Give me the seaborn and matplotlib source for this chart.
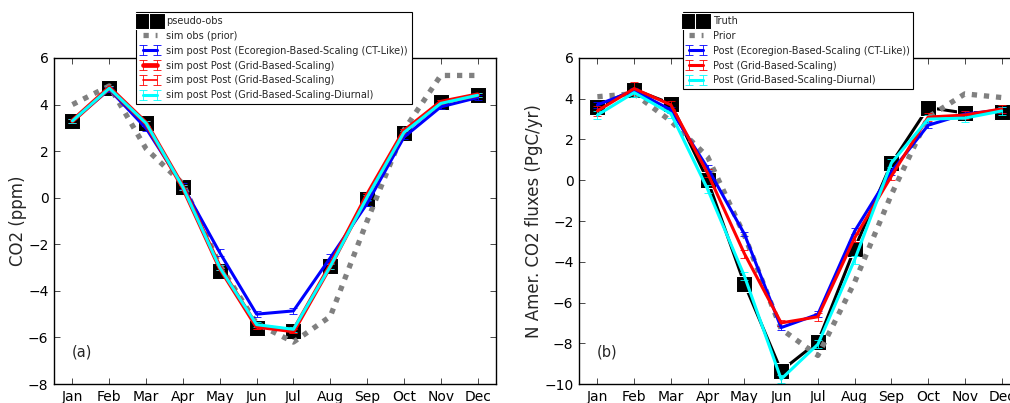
import numpy as np
import pandas as pd
import matplotlib
matplotlib.use('Agg')
import matplotlib.pyplot as plt
import seaborn as sns

# 月份
months = ['Jan', 'Feb', 'Mar', 'Apr', 'May', 'Jun', 'Jul', 'Aug', 'Sep', 'Oct', 'Nov', 'Dec']

# (a) CO2 浓度 (ppm)
obs_a = [3.29, 4.73, 3.22, 0.46, -3.15, -5.58, -5.73, -2.93, -0.06, 2.76, 4.09, 4.40]
prior_a = [4.0, 4.8, 2.1, 0.6, -2.9, -5.4, -6.2, -5.1, -1.0, 2.9, 5.25, 5.25]
eco_a = [3.3, 4.65, 2.98, 0.5, -2.36, -5.0, -4.86, -2.58, -0.25, 2.6, 3.9, 4.3]
grid_a = [3.3, 4.72, 3.2, 0.45, -3.0, -5.52, -5.72, -2.92, 0.1, 2.85, 4.1, 4.42]
grid2_a = [3.3, 4.72, 3.2, 0.45, -3.0, -5.52, -5.72, -2.92, 0.1, 2.85, 4.1, 4.42]
diurnal_a = [3.3, 4.7, 3.2, 0.45, -3.0, -5.45, -5.65, -2.95, 0.02, 2.8, 4.05, 4.4]
eco_err_a = [0.1, 0.1, 0.12, 0.12, 0.15, 0.12, 0.12, 0.15, 0.12, 0.1, 0.1, 0.1]
grid_err_a = [0.08, 0.08, 0.1, 0.1, 0.12, 0.1, 0.1, 0.12, 0.1, 0.08, 0.08, 0.08]
diurnal_err_a = [0.08, 0.08, 0.1, 0.1, 0.12, 0.1, 0.1, 0.12, 0.1, 0.08, 0.08, 0.08]

# (b) 北美 CO2 通量 (PgC/yr)
truth_b = [3.6, 4.45, 3.76, 0.0, -5.08, -9.35, -7.93, -3.35, 0.83, 3.57, 3.3, 3.34]
prior_b = [4.1, 4.25, 2.9, 1.15, -2.7, -7.3, -8.6, -5.0, -0.7, 3.1, 4.24, 4.06]
eco_b = [3.7, 4.4, 3.45, 0.6, -2.64, -7.23, -6.58, -2.5, 0.42, 2.7, 3.25, 3.45]
grid_b = [3.4, 4.5, 3.7, 0.34, -3.6, -7.0, -6.7, -2.83, 0.2, 3.1, 3.2, 3.5]
diurnal_b = [3.2, 4.3, 3.27, -0.44, -4.7, -9.76, -8.05, -3.9, 0.85, 3.0, 3.05, 3.4]
eco_err_b = [0.15, 0.15, 0.15, 0.15, 0.1, 0.1, 0.15, 0.15, 0.15, 0.15, 0.15, 0.15]
grid_err_b = [0.25, 0.3, 0.2, 0.2, 0.2, 0.15, 0.2, 0.2, 0.2, 0.2, 0.2, 0.2]
diurnal_err_b = [0.2, 0.2, 0.2, 0.2, 0.2, 0.2, 0.2, 0.2, 0.2, 0.2, 0.2, 0.2]

sns.set_style('white', {'xtick.direction': 'in', 'ytick.direction': 'in',
                        'axes.edgecolor': 'black'})
plt.rcParams['font.family'] = ['DejaVu Sans']
plt.rcParams['xtick.top'] = True
plt.rcParams['ytick.right'] = True
plt.rcParams['xtick.bottom'] = True
plt.rcParams['ytick.left'] = True
plt.rcParams['xtick.major.size'] = 4
plt.rcParams['ytick.major.size'] = 4
plt.rcParams['xtick.major.width'] = 0.5
plt.rcParams['ytick.major.width'] = 0.5
plt.rcParams['xtick.color'] = 'black'
plt.rcParams['ytick.color'] = 'black'
plt.rcParams['axes.linewidth'] = 1.0

x = np.arange(len(months))
df_a = pd.DataFrame({'month': x, 'obs': obs_a, 'prior': prior_a})
df_b = pd.DataFrame({'month': x, 'truth': truth_b, 'prior': prior_b})

fig = plt.figure(figsize=(10.1, 4.03), dpi=100)
ax1 = fig.add_axes([0.0535, 0.0471, 0.4376, 0.809])
ax2 = fig.add_axes([0.5733, 0.0471, 0.4366, 0.809])

dots = (0, (1.0, 1.3))
ekw = dict(capsize=3, elinewidth=0.6, capthick=0.6)

# 面板 (a)
sns.lineplot(data=df_a, x='month', y='obs', ax=ax1, color='black', marker='s',
             markersize=12, linestyle='none', label='pseudo-obs')
sns.lineplot(data=df_a, x='month', y='prior', ax=ax1, color='0.5', linewidth=3.8,
             linestyle=dots, label='sim obs (prior)')
ax1.errorbar(x, eco_a, yerr=eco_err_a, color='blue', lw=2.2, ecolor='blue', **ekw,
             label='sim post Post (Ecoregion-Based-Scaling (CT-Like))')
ax1.errorbar(x, grid_a, yerr=grid_err_a, color='red', lw=3.4, ecolor='red', **ekw,
             label='sim post Post (Grid-Based-Scaling)')
ax1.errorbar(x, grid2_a, yerr=grid_err_a, color='red', lw=1.2, ecolor='red', **ekw,
             label='sim post Post (Grid-Based-Scaling)')
ax1.errorbar(x, diurnal_a, yerr=diurnal_err_a, color='cyan', lw=2.2, ecolor='cyan', **ekw,
             label='sim post Post (Grid-Based-Scaling-Diurnal)')
ax1.set_ylim(-8, 6)
ax1.set_yticks(np.arange(-8, 7, 2))
ax1.set_ylabel('CO2 (ppm)', fontsize=12, labelpad=1)
ax1.text(0.04, 0.085, '(a)', transform=ax1.transAxes, fontsize=10.5)

# 面板 (b)
sns.lineplot(data=df_b, x='month', y='truth', ax=ax2, color='black', marker='s',
             markersize=11, linewidth=2.2, label='Truth')
sns.lineplot(data=df_b, x='month', y='prior', ax=ax2, color='0.5', linewidth=3.8,
             linestyle=dots, label='Prior')
ax2.errorbar(x, eco_b, yerr=eco_err_b, color='blue', lw=2.2, ecolor='blue', **ekw,
             label='Post (Ecoregion-Based-Scaling (CT-Like))')
ax2.errorbar(x, grid_b, yerr=grid_err_b, color='red', lw=2.2, ecolor='red', **ekw,
             label='Post (Grid-Based-Scaling)')
ax2.errorbar(x, diurnal_b, yerr=diurnal_err_b, color='cyan', lw=2.2, ecolor='cyan', **ekw,
             label='Post (Grid-Based-Scaling-Diurnal)')
ax2.set_ylim(-10, 6)
ax2.set_yticks(np.arange(-10, 7, 2))
ax2.set_ylabel('N Amer. CO2 fluxes (PgC/yr)', fontsize=12, labelpad=1)
ax2.text(0.04, 0.085, '(b)', transform=ax2.transAxes, fontsize=10.5)

for ax in (ax1, ax2):
    ax.set_xlim(-0.5, 11.5)
    ax.set_xticks(x)
    ax.set_xticklabels(months)
    ax.set_xlabel('')
    ax.tick_params(labelsize=10, pad=4)
    for s in ax.spines.values():
        s.set_visible(True)
        s.set_color('black')

leg_kw = dict(loc='upper left', fontsize=7, numpoints=2, handlelength=2,
              handletextpad=0.7, borderpad=0.4, labelspacing=0.5,
              fancybox=False, framealpha=1, edgecolor='black',
              bbox_transform=fig.transFigure)
l1 = ax1.legend(bbox_to_anchor=(0.1300, 0.982), **leg_kw)
l2 = ax2.legend(bbox_to_anchor=(0.671, 0.982), **leg_kw)
for l in (l1, l2):
    l.get_frame().set_linewidth(0.8)

fig.savefig('out.png', dpi=100)
